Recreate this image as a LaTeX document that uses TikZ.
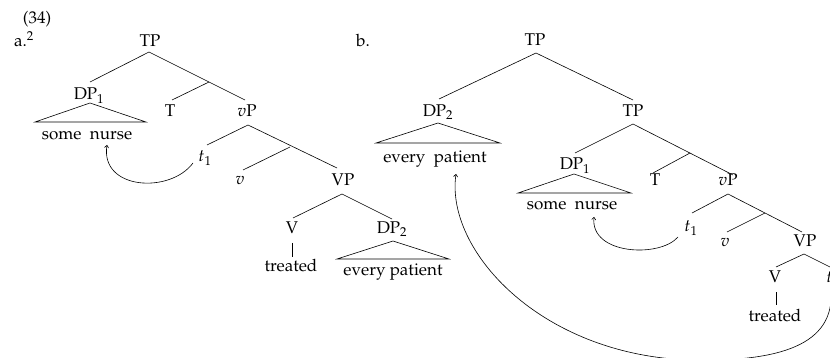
\documentclass[tikz,border=0pt]{standalone}
\usepackage[T1]{fontenc}
\usepackage{mathpazo}
\usetikzlibrary{arrows.meta}
\begin{document}
\begin{tikzpicture}[x=1pt,y=-1pt,
  lbl/.style={anchor=base,inner sep=0pt,font=\fontsize{17}{20}\selectfont},
  edge/.style={line width=0.6pt},
  mv/.style={line width=0.6pt,-{To[length=3pt,width=4.5pt]}}]
\useasboundingbox (0,0) rectangle (830,358);
% ---------- (34) a ----------
\node[lbl] (ex) at (37,24) {(34)};
\node[lbl] (la) at (24,47) {a.\textsuperscript{2}};
\node[lbl] (aTP) at (150,47) {TP};
\coordinate (aTPb) at (149,52);
\coordinate (aDPt) at (90,82);
\coordinate (aX) at (209,82);
\coordinate (aTt) at (172,100);
\coordinate (avPt) at (245,100);
\node[lbl] (aDP) at (89,100) {DP$_1$};
\node[lbl] (aT) at (170,117) {T};
\node[lbl] (avP) at (247,117) {$v$P};
\coordinate (aDPa) at (90,103);
\coordinate (aDPl) at (35,122);
\coordinate (aDPr) at (146,122);
\node[lbl] (asn) at (87,140) {some~~nurse};
\coordinate (avPb) at (248,125);
\coordinate (at1t) at (207,145);
\coordinate (aVPt) at (337,168);
\coordinate (aY) at (290,147);
\coordinate (avt) at (243,170);
\node[lbl] (at1) at (205,162) {$t_1$};
\node[lbl] (av) at (240,185) {$v$};
\node[lbl] (aVP) at (343,186) {VP};
\coordinate (aVPb) at (342,194);
\coordinate (aVt) at (293,218);
\coordinate (aDP2t) at (392,219);
\node[lbl] (aV) at (292,234) {V};
\node[lbl] (aDP2) at (392,234) {DP$_2$};
\coordinate (aVb) at (292,243);
\coordinate (atrt) at (292,257);
\node[lbl] (atr) at (291,272) {treated};
\coordinate (aDP2a) at (393,241);
\coordinate (aDP2l) at (337,259);
\coordinate (aDP2r) at (449,259);
\node[lbl] (aep) at (393,276) {every patient};
\coordinate (am0) at (193,163);
\coordinate (am1) at (107,145);

\draw[edge] (aDPt) -- (aTPb) -- (avPt);
\draw[edge] (aX) -- (aTt);
\draw[edge] (aDPl) -- (aDPa) -- (aDPr) -- cycle;
\draw[edge] (at1t) -- (avPb) -- (aVPt);
\draw[edge] (aY) -- (avt);
\draw[edge] (aVt) -- (aVPb) -- (aDP2t);
\draw[edge] (aVb) -- (atrt);
\draw[edge] (aDP2l) -- (aDP2a) -- (aDP2r) -- cycle;
\draw[mv] (am0) .. controls (170,194) and (100,190) .. (am1);

% ---------- b ----------
\node[lbl] (lb) at (363,47) {b.};
\node[lbl] (bTP) at (535,46) {TP};
\coordinate (bTPb) at (536,53);
\coordinate (bDP2t) at (439,99);
\coordinate (bTP2t) at (633,100);
\node[lbl] (bDP2) at (438,117) {DP$_2$};
\node[lbl] (bTP2) at (633,117) {TP};
\coordinate (bDP2a) at (438,123);
\coordinate (bDP2l) at (376,143);
\coordinate (bDP2r) at (500,143);
\node[lbl] (bep) at (435,163) {every~~patient};
\coordinate (bTP2b) at (633,124);
\coordinate (bDP1t) at (575,153);
\coordinate (bvPt) at (733,175);
\coordinate (bX) at (690,153);
\coordinate (bTt) at (653,173);
\node[lbl] (bDP1) at (575,170) {DP$_1$};
\node[lbl] (bT) at (655,186) {T};
\node[lbl] (bvP) at (728,186) {$v$P};
\coordinate (bDP1a) at (574,174);
\coordinate (bDP1l) at (518,193);
\coordinate (bDP1r) at (631,193);
\node[lbl] (bsn) at (572,210) {some~~nurse};
\coordinate (bvPb) at (728,194);
\coordinate (bt1t) at (692,213);
\coordinate (bVPt) at (802,232);
\coordinate (bY) at (765,213);
\coordinate (bvt) at (727,232);
\node[lbl] (bt1) at (691,232) {$t_1$};
\node[lbl] (bv) at (725,247) {$v$};
\node[lbl] (bVP) at (805,247) {VP};
\coordinate (bVPb) at (804,254);
\coordinate (bVt) at (776,267);
\coordinate (bt2t) at (832,268);
\node[lbl] (bV) at (775,283) {V};
\node[lbl] (bt2) at (833,283) {$t_2$};
\coordinate (bVb) at (776,292);
\coordinate (btrt) at (776,305);
\node[lbl] (btr) at (775,321) {treated};
\coordinate (bm0) at (678,237);
\coordinate (bm1) at (594,217);
\coordinate (bn0) at (831,290);
\coordinate (bnmid) at (690,360);
\coordinate (bn1) at (456,174);

\draw[edge] (bDP2t) -- (bTPb) -- (bTP2t);
\draw[edge] (bDP2l) -- (bDP2a) -- (bDP2r) -- cycle;
\draw[edge] (bDP1t) -- (bTP2b) -- (bvPt);
\draw[edge] (bX) -- (bTt);
\draw[edge] (bDP1l) -- (bDP1a) -- (bDP1r) -- cycle;
\draw[edge] (bt1t) -- (bvPb) -- (bVPt);
\draw[edge] (bY) -- (bvt);
\draw[edge] (bVt) -- (bVPb) -- (bt2t);
\draw[edge] (bVb) -- (btrt);
\draw[mv] (bm0) .. controls (660,258) and (590,255) .. (bm1);
\draw[mv] (bn0) .. controls (835,345) and (780,362) .. (bnmid)
  .. controls (540,355) and (445,250) .. (bn1);
\end{tikzpicture}
\end{document}
